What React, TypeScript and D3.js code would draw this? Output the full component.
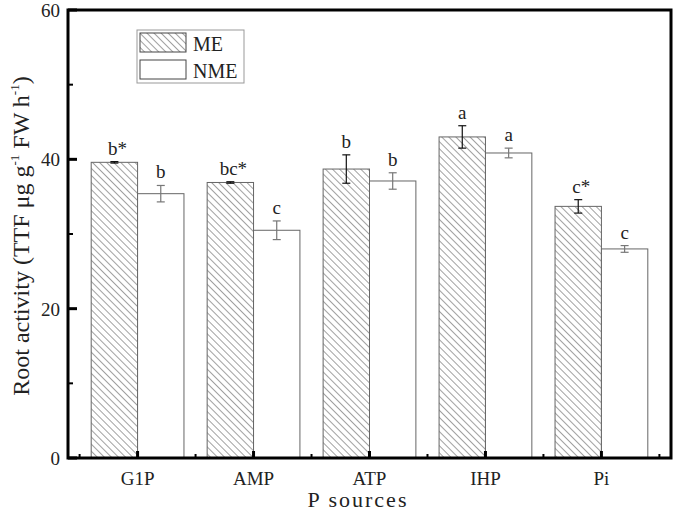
import React from 'react';
import * as d3 from 'd3';

const sources = ['G1P', 'AMP', 'ATP', 'IHP', 'Pi'];
const meValues = [39.6, 36.9, 38.7, 43.0, 33.7];
const meErrors = [0.1, 0.1, 1.9, 1.5, 0.9];
const meLetters = ['b*', 'bc*', 'b', 'a', 'c*'];
const nmeValues = [35.4, 30.5, 37.1, 40.85, 28.0];
const nmeErrors = [1.1, 1.25, 1.1, 0.65, 0.45];
const nmeLetters = ['b', 'c', 'b', 'a', 'c'];
const yTicks = [0, 20, 40, 60];
const yMinorTicks = [10, 30, 50];

const W = 675;
const H = 514;
const left = 68;
const right = 671;
const top = 10;
const bottom = 458;
const FONT = '"Liberation Serif", "Times New Roman", serif';

function App() {
  const x = d3.scaleLinear().domain([0.4, 5.6]).range([left, right]);
  const y = d3.scaleLinear().domain([0, 60]).range([bottom, top]);
  const barW = x(1.4) - x(1);

  const bars = (vals: number[], errs: number[], letters: string[], isMe: boolean) =>
    vals.map((v, i) => {
      const x0 = isMe ? x(i + 1) - barW : x(i + 1);
      const cx = x0 + barW / 2;
      const errColor = isMe ? '#111' : '#777';
      return (
        <g key={(isMe ? 'me' : 'nme') + i}>
          <rect
            x={x0}
            y={y(v)}
            width={barW}
            height={y(0) - y(v)}
            fill={isMe ? 'url(#hatch)' : '#fff'}
            stroke="#666"
            strokeWidth={1}
          />
          <line x1={cx} x2={cx} y1={y(v + errs[i])} y2={y(v - errs[i])} stroke={errColor} strokeWidth={1.2} />
          <line x1={cx - 4} x2={cx + 4} y1={y(v + errs[i])} y2={y(v + errs[i])} stroke={errColor} strokeWidth={1.2} />
          <line x1={cx - 4} x2={cx + 4} y1={y(v - errs[i])} y2={y(v - errs[i])} stroke={errColor} strokeWidth={1.2} />
          <text
            x={cx + (letters[i].endsWith('*') ? 3 : 0)}
            y={y(v + errs[i]) - 7}
            textAnchor="middle"
            fontSize={19}
            fontFamily={FONT}
            fill="#222"
          >
            {letters[i]}
          </text>
        </g>
      );
    });

  return (
    <svg width={W} height={H} style={{ position: 'absolute', left: 0, top: 0 }}>
      <defs>
        <pattern id="hatch" patternUnits="userSpaceOnUse" width={5} height={5} patternTransform="rotate(-45)">
          <rect width={5} height={5} fill="#fff" />
          <line x1={0} y1={0} x2={0} y2={5} stroke="#444" strokeWidth={1} />
        </pattern>
      </defs>
      <rect width={W} height={H} fill="#fff" />

      {bars(meValues, meErrors, meLetters, true)}
      {bars(nmeValues, nmeErrors, nmeLetters, false)}

      {/* frame */}
      <rect x={left} y={top} width={right - left} height={bottom - top} fill="none" stroke="#000" strokeWidth={3} />

      {/* y ticks */}
      {yTicks.map((t) => (
        <g key={'yt' + t}>
          <line x1={left} x2={left + 9} y1={y(t)} y2={y(t)} stroke="#000" strokeWidth={3} />
          <text x={left - 8} y={y(t) + 7} textAnchor="end" fontSize={19} fontFamily={FONT} fill="#222">
            {t}
          </text>
        </g>
      ))}
      {yMinorTicks.map((t) => (
        <line key={'ym' + t} x1={left} x2={left + 5} y1={y(t)} y2={y(t)} stroke="#000" strokeWidth={2} />
      ))}

      {/* x ticks */}
      {sources.map((s, i) => (
        <g key={s}>
          <line x1={x(i + 1)} x2={x(i + 1)} y1={bottom} y2={bottom - 7} stroke="#000" strokeWidth={3} />
          <line x1={x(i + 0.5)} x2={x(i + 0.5)} y1={bottom} y2={bottom - 4} stroke="#000" strokeWidth={2} />
          <text x={x(i + 1)} y={485} textAnchor="middle" fontSize={19} fontFamily={FONT} fill="#222">
            {s}
          </text>
        </g>
      ))}
      <line x1={x(5.5)} x2={x(5.5)} y1={bottom} y2={bottom - 4} stroke="#000" strokeWidth={2} />

      {/* axis titles */}
      <text x={358} y={507} textAnchor="middle" fontSize={22} letterSpacing={2} fontFamily={FONT} fill="#222">
        P sources
      </text>
      <text
        transform={`translate(29, 236) rotate(-90)`}
        textAnchor="middle"
        fontSize={24}
        fontFamily={FONT}
        fill="#222"
      >
        Root activity (TTF μg g<tspan dy={-10} fontSize={13}>-1</tspan>
        <tspan dy={10}> FW h</tspan>
        <tspan dy={-10} fontSize={13}>-1</tspan>
        <tspan dy={10}>)</tspan>
      </text>

      {/* legend */}
      <rect x={137} y={30} width={107} height={53} fill="#fff" stroke="#999" strokeWidth={1} />
      <rect x={140} y={33} width={46} height={19} fill="url(#hatch)" stroke="#444" strokeWidth={1} />
      <rect x={140} y={60} width={46} height={19} fill="#fff" stroke="#444" strokeWidth={1} />
      <text x={193} y={51} fontSize={20} fontFamily={FONT} fill="#222">ME</text>
      <text x={193} y={78} fontSize={20} fontFamily={FONT} fill="#222">NME</text>
    </svg>
  );
}

export default App;
